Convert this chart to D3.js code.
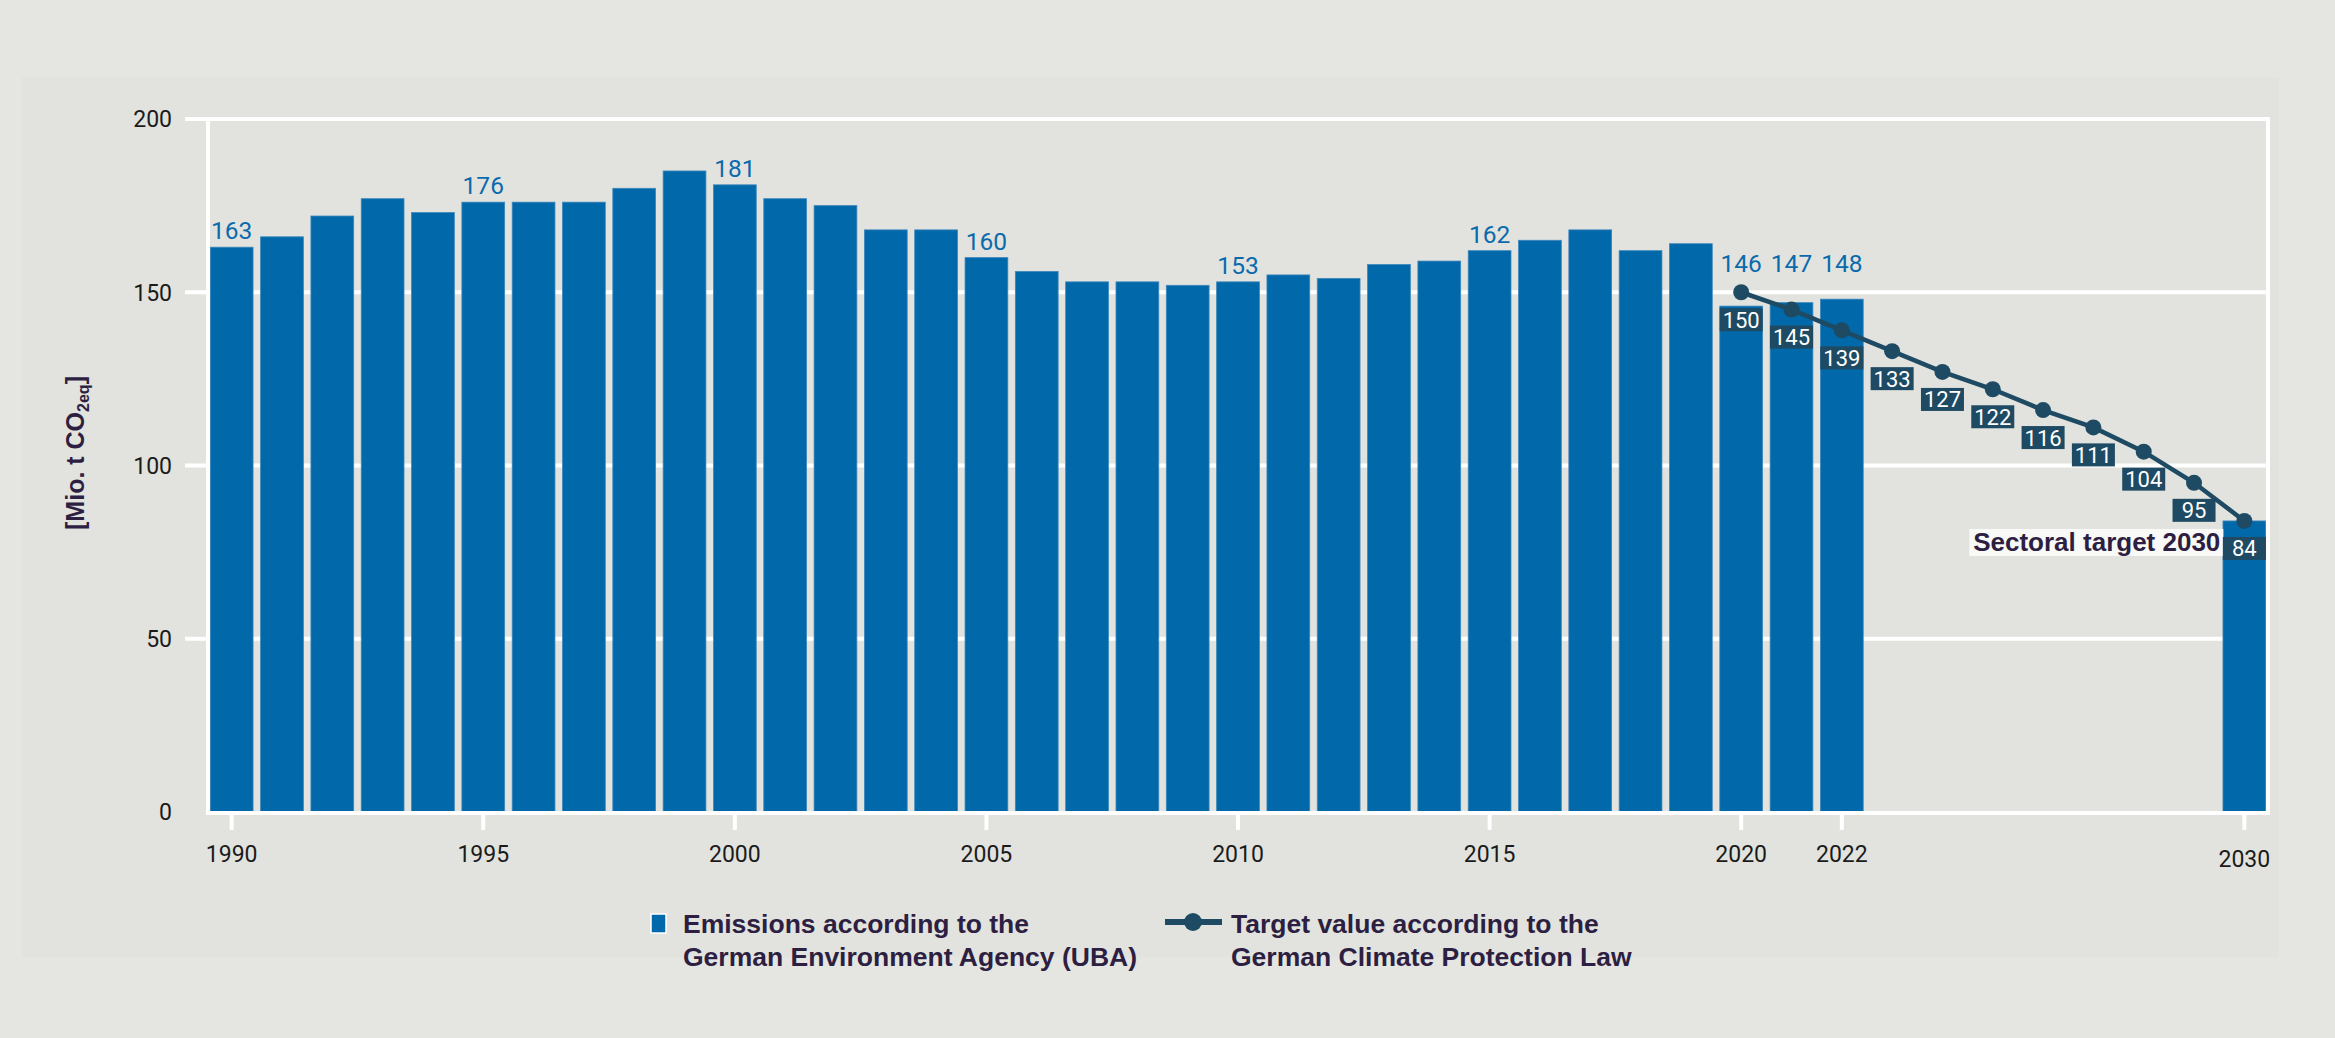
<!DOCTYPE html>
<html>
<head>
<meta charset="utf-8">
<script src="https://cdn.jsdelivr.net/npm/d3@7"></script>
<style>
  body { margin: 0; background: #e5e6e1; }
  svg { display: block; }
</style>
</head>
<body>
<div id="chart"></div>
<script>
// emissions in Mio. t CO2eq (UBA), 2030 = sectoral target
var years = [1990, 1991, 1992, 1993, 1994, 1995, 1996, 1997, 1998, 1999,
             2000, 2001, 2002, 2003, 2004, 2005, 2006, 2007, 2008, 2009,
             2010, 2011, 2012, 2013, 2014, 2015, 2016, 2017, 2018, 2019,
             2020, 2021, 2022, 2030]
var emissions = [163, 166, 172, 177, 173, 176, 176, 176, 180, 185,
                 181, 177, 175, 168, 168, 160, 156, 153, 153, 152,
                 153, 155, 154, 158, 159, 162, 165, 168, 162, 164,
                 146, 147, 148, 84]
var labeledYears = [1990, 1995, 2000, 2005, 2010, 2015, 2020, 2021, 2022]

// target path of the Climate Protection Law
var targetYears = [2020, 2021, 2022, 2023, 2024, 2025, 2026, 2027, 2028, 2029, 2030]
var targetValues = [150, 145, 139, 133, 127, 122, 116, 111, 104, 95, 84]

var xTicks = [1990, 1995, 2000, 2005, 2010, 2015, 2020, 2022, 2030]
var yTicks = [0, 50, 100, 150, 200]

var W = 2335, H = 1038
var blue = "#0169a9"
var navy = "#1e4a63"
var ink = "#2d1f42"
var grid = "#ffffff"

var svg = d3.select("#chart")
            .append("svg")
            .attr("width", W)
            .attr("height", H)

svg.append("rect")
   .attr("width", W)
   .attr("height", H)
   .attr("fill", "#e5e6e1")

// slightly darker panel behind the chart
svg.append("rect")
   .attr("x", 22)
   .attr("y", 77)
   .attr("width", 2257)
   .attr("height", 880)
   .attr("fill", "#e2e3de")

var x = d3.scaleLinear()
          .domain([1989.45, 2030.45])
          .range([204, 2267])

var y = d3.scaleLinear()
          .domain([0, 200])
          .range([812, 119])

var barW = (x(1991) - x(1990)) * 0.85

// gridlines (with short tick on the left)
svg.append("g")
   .selectAll("line")
   .data(yTicks.filter(function(d) { return d > 0 }))
   .join("line")
   .attr("x1", 185)
   .attr("x2", 2270)
   .attr("y1", function(d) { return y(d) })
   .attr("y2", function(d) { return y(d) })
   .attr("stroke", grid)
   .attr("stroke-width", 4)

// y tick labels
svg.append("g")
   .selectAll("text")
   .data(yTicks)
   .join("text")
   .attr("x", 172)
   .attr("y", function(d) { return y(d) })
   .attr("dy", "0.36em")
   .attr("text-anchor", "end")
   .attr("font-family", "Roboto, sans-serif")
   .attr("font-size", "23px")
   .attr("fill", "#1b1b1b")
   .text(function(d) { return d })

// bars
svg.append("g")
   .selectAll("rect")
   .data(years)
   .join("rect")
   .attr("x", function(d) { return x(d) - barW / 2 })
   .attr("y", function(d, i) { return y(emissions[i]) })
   .attr("width", barW)
   .attr("height", function(d, i) { return y(0) - y(emissions[i]) })
   .attr("fill", blue)
   .attr("stroke", "#3c86bd")
   .attr("stroke-width", 0.8)

// frame: left axis, right border, baseline
svg.append("line")
   .attr("x1", 208).attr("x2", 208)
   .attr("y1", y(200) - 2).attr("y2", y(0) + 3)
   .attr("stroke", grid).attr("stroke-width", 4)
svg.append("line")
   .attr("x1", 2268).attr("x2", 2268)
   .attr("y1", y(200) - 2).attr("y2", y(0) + 3)
   .attr("stroke", grid).attr("stroke-width", 4)
svg.append("line")
   .attr("x1", 206).attr("x2", 2270)
   .attr("y1", y(0) + 1).attr("y2", y(0) + 1)
   .attr("stroke", grid).attr("stroke-width", 4)

// x ticks + labels
var xt = svg.append("g")
            .selectAll("g")
            .data(xTicks)
            .join("g")
            .attr("transform", function(d) { return "translate(" + x(d) + ",0)" })
xt.append("line")
  .attr("y1", 814)
  .attr("y2", 830)
  .attr("stroke", grid)
  .attr("stroke-width", 4)
xt.append("text")
  .attr("y", function(d) { return d == 2030 ? 867 : 862 })
  .attr("text-anchor", "middle")
  .attr("font-family", "Roboto, sans-serif")
  .attr("font-size", "23px")
  .attr("fill", "#1b1b1b")
  .text(function(d) { return d })

// value labels above selected bars (2020-2022 lifted above the target point)
var liftY = y(targetValues[0]) - 12
svg.append("g")
   .selectAll("text")
   .data(labeledYears)
   .join("text")
   .attr("x", function(d) { return x(d) })
   .attr("y", function(d) {
       var v = emissions[years.indexOf(d)]
       var yy = y(v)
       if (d >= 2020) yy = Math.min(yy, liftY)
       return yy - 8
   })
   .attr("text-anchor", "middle")
   .attr("font-family", "Roboto, sans-serif")
   .attr("font-size", "24.5px")
   .attr("fill", "#0b6aac")
   .text(function(d) { return emissions[years.indexOf(d)] })

// target line
var line = d3.line()
             .x(function(d, i) { return x(targetYears[i]) })
             .y(function(d) { return y(d) })

svg.append("path")
   .datum(targetValues)
   .attr("d", line)
   .attr("fill", "none")
   .attr("stroke", navy)
   .attr("stroke-width", 4.5)

svg.append("g")
   .selectAll("circle")
   .data(targetValues)
   .join("circle")
   .attr("cx", function(d, i) { return x(targetYears[i]) })
   .attr("cy", function(d) { return y(d) })
   .attr("r", 8)
   .attr("fill", navy)

// "Sectoral target 2030" note
var lastX = x(targetYears[targetYears.length - 1])
var lastY = y(targetValues[targetValues.length - 1])
svg.append("rect")
   .attr("x", lastX - 275)
   .attr("y", lastY + 8)
   .attr("width", 254)
   .attr("height", 27)
   .attr("fill", "#f9f9f7")
svg.append("text")
   .attr("x", lastX - 24)
   .attr("y", lastY + 30)
   .attr("text-anchor", "end")
   .attr("font-family", "Liberation Sans, Arial, sans-serif")
   .attr("font-weight", "bold")
   .attr("font-size", "26px")
   .attr("fill", ink)
   .text("Sectoral target 2030")

// target value boxes
var tl = svg.append("g")
            .selectAll("g")
            .data(targetValues)
            .join("g")
            .attr("transform", function(d, i) { return "translate(" + x(targetYears[i]) + "," + (y(d) + 16) + ")" })
tl.append("rect")
  .attr("x", -21.5)
  .attr("y", 0)
  .attr("width", 43)
  .attr("height", 23)
  .attr("fill", navy)
tl.append("text")
  .attr("y", 19.5)
  .attr("text-anchor", "middle")
  .attr("font-family", "Roboto, sans-serif")
  .attr("font-size", "22px")
  .attr("fill", "#ffffff")
  .text(function(d) { return d })

// y axis title
var yt = svg.append("text")
            .attr("transform", "translate(84,453) rotate(-90)")
            .attr("text-anchor", "middle")
            .attr("font-family", "Liberation Sans, Arial, sans-serif")
            .attr("font-weight", "bold")
            .attr("font-size", "25px")
            .attr("fill", ink)
yt.append("tspan").text("[Mio. t CO")
yt.append("tspan").attr("font-size", "16px").attr("dy", 5).text("2eq")
yt.append("tspan").attr("dy", -5).text("]")

// legend
var leg = svg.append("g")
             .attr("font-family", "Liberation Sans, Arial, sans-serif")
             .attr("font-weight", "bold")
             .attr("font-size", "26.5px")
             .attr("fill", ink)

leg.append("rect")
   .attr("x", 651)
   .attr("y", 914)
   .attr("width", 15)
   .attr("height", 19)
   .attr("fill", blue)
   .attr("stroke", "#ffffff")
   .attr("stroke-width", 1.5)
var t1 = leg.append("text").attr("x", 683).attr("y", 933)
t1.append("tspan").text("Emissions according to the")
t1.append("tspan").attr("x", 683).attr("dy", 33).text("German Environment Agency (UBA)")

leg.append("line")
   .attr("x1", 1165).attr("x2", 1222)
   .attr("y1", 922).attr("y2", 922)
   .attr("stroke", navy)
   .attr("stroke-width", 6)
leg.append("circle")
   .attr("cx", 1193)
   .attr("cy", 922)
   .attr("r", 9)
   .attr("fill", navy)
var t2 = leg.append("text").attr("x", 1231).attr("y", 933)
t2.append("tspan").text("Target value according to the")
t2.append("tspan").attr("x", 1231).attr("dy", 33).text("German Climate Protection Law")
</script>
</body>
</html>
